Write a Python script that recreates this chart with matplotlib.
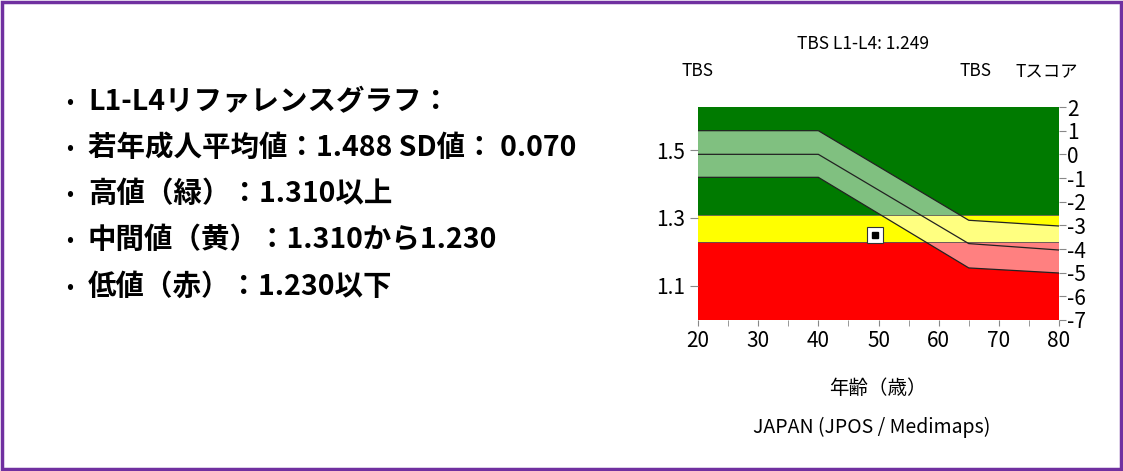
import matplotlib
matplotlib.use("Agg")
import matplotlib.pyplot as plt
from matplotlib.patches import Rectangle, Polygon

plt.rcParams['font.family'] = ['Noto Sans CJK JP', 'DejaVu Sans']

ages = [20, 40, 65, 80]
mean_tbs = [1.488, 1.488, 1.224, 1.205]
upper_tbs = [1.558, 1.558, 1.293, 1.276]
lower_tbs = [1.420, 1.420, 1.152, 1.137]
ref_mean, ref_sd = 1.488, 0.070
high_thr, low_thr = 1.310, 1.230
patient_age, patient_tbs = 49.5, 1.249
bullets = ["L1-L4リファレンスグラフ：",
           "若年成人平均値：1.488 SD値： 0.070",
           "高値（緑）：1.310以上",
           "中間値（黄）：1.310から1.230",
           "低値（赤）：1.230以下"]
tscores = list(range(2, -8, -1))

W, H = 1123, 471
fig = plt.figure(figsize=(W/100, H/100), dpi=100)
fig.patches.append(Rectangle((0.002, 0.004), 0.996, 0.992, transform=fig.transFigure,
                             fill=False, edgecolor='#7030A0', linewidth=2.5))

for i, b in enumerate(bullets):
    y = 1 - [102, 148, 194, 240, 287][i] / H
    fig.text(66/W, y, "•", fontsize=15, va='center', ha='left')
    fig.text(88/W, y, b, fontsize=20.5, fontweight='bold', va='center', ha='left')

ymin = ref_mean - 7*ref_sd
ymax = ref_mean + 2*ref_sd
ax = fig.add_axes([698/W, 1-320/H, (1059-698)/W, (320-107)/H])
ax.set_xlim(20, 80)
ax.set_ylim(ymin, ymax)
ax.axhspan(high_thr, ymax, color='#007A00', lw=0)
ax.axhspan(low_thr, high_thr, color='#FFFF00', lw=0)
ax.axhspan(ymin, low_thr, color='#FF0000', lw=0)

band = list(zip(ages, upper_tbs)) + list(zip(ages[::-1], lower_tbs[::-1]))
for bot, top, col in [(high_thr, ymax, '#80C080'), (low_thr, high_thr, '#FFFF80'), (ymin, low_thr, '#FF8080')]:
    p = Polygon(band, closed=True, facecolor=col, lw=0)
    ax.add_patch(p)
    clip = Rectangle((20, bot), 60, top - bot, transform=ax.transData, visible=False)
    ax.add_patch(clip)
    p.set_clip_path(clip)
ax.axhline(high_thr, color='#555555', lw=0.6)
ax.axhline(low_thr, color='#555555', lw=0.6)
for s in [upper_tbs, mean_tbs, lower_tbs]:
    ax.plot(ages, s, color='#222222', lw=0.9)
ax.plot(patient_age, patient_tbs, marker='s', ms=11, mfc='white', mec='#333333', mew=0.8)
ax.plot(patient_age, patient_tbs, marker='s', ms=4.5, mfc='black', mec='black')

ax.set_xticks(range(20, 81, 10))
ax.set_xticks(range(25, 80, 10), minor=True)
ax.set_yticks([1.1, 1.3, 1.5])
ax.tick_params(labelsize=15, color='#888888', length=4)
ax.tick_params(which='minor', color='#888888', length=4)
for sp in ax.spines.values():
    sp.set_visible(False)
ax.tick_params(axis='y', length=6)

ax2 = ax.twinx()
ax2.set_ylim(ymin, ymax)
ax2.set_yticks([ref_mean + t*ref_sd for t in tscores])
ax2.set_yticklabels([str(t) for t in tscores])
ax2.tick_params(labelsize=15, color='#888888', length=5, pad=1)
for sp in ax2.spines.values():
    sp.set_visible(False)

fs = 12.5
fig.text(863/W, 1-44/H, "TBS L1-L4: 1.249", fontsize=fs, ha='center', va='center')
fig.text(698/W, 1-71/H, "TBS", fontsize=fs, ha='center', va='center')
fig.text(975/W, 1-71/H, "TBS", fontsize=fs, ha='center', va='center')
fig.text(1047/W, 1-71/H, "Tスコア", fontsize=fs, ha='center', va='center')
fig.text(878/W, 1-388/H, "年齢（歳）", fontsize=14, ha='center', va='center')
fig.text(872/W, 1-427/H, "JAPAN (JPOS / Medimaps)", fontsize=14, ha='center', va='center')

fig.savefig("out.png", dpi=100)
